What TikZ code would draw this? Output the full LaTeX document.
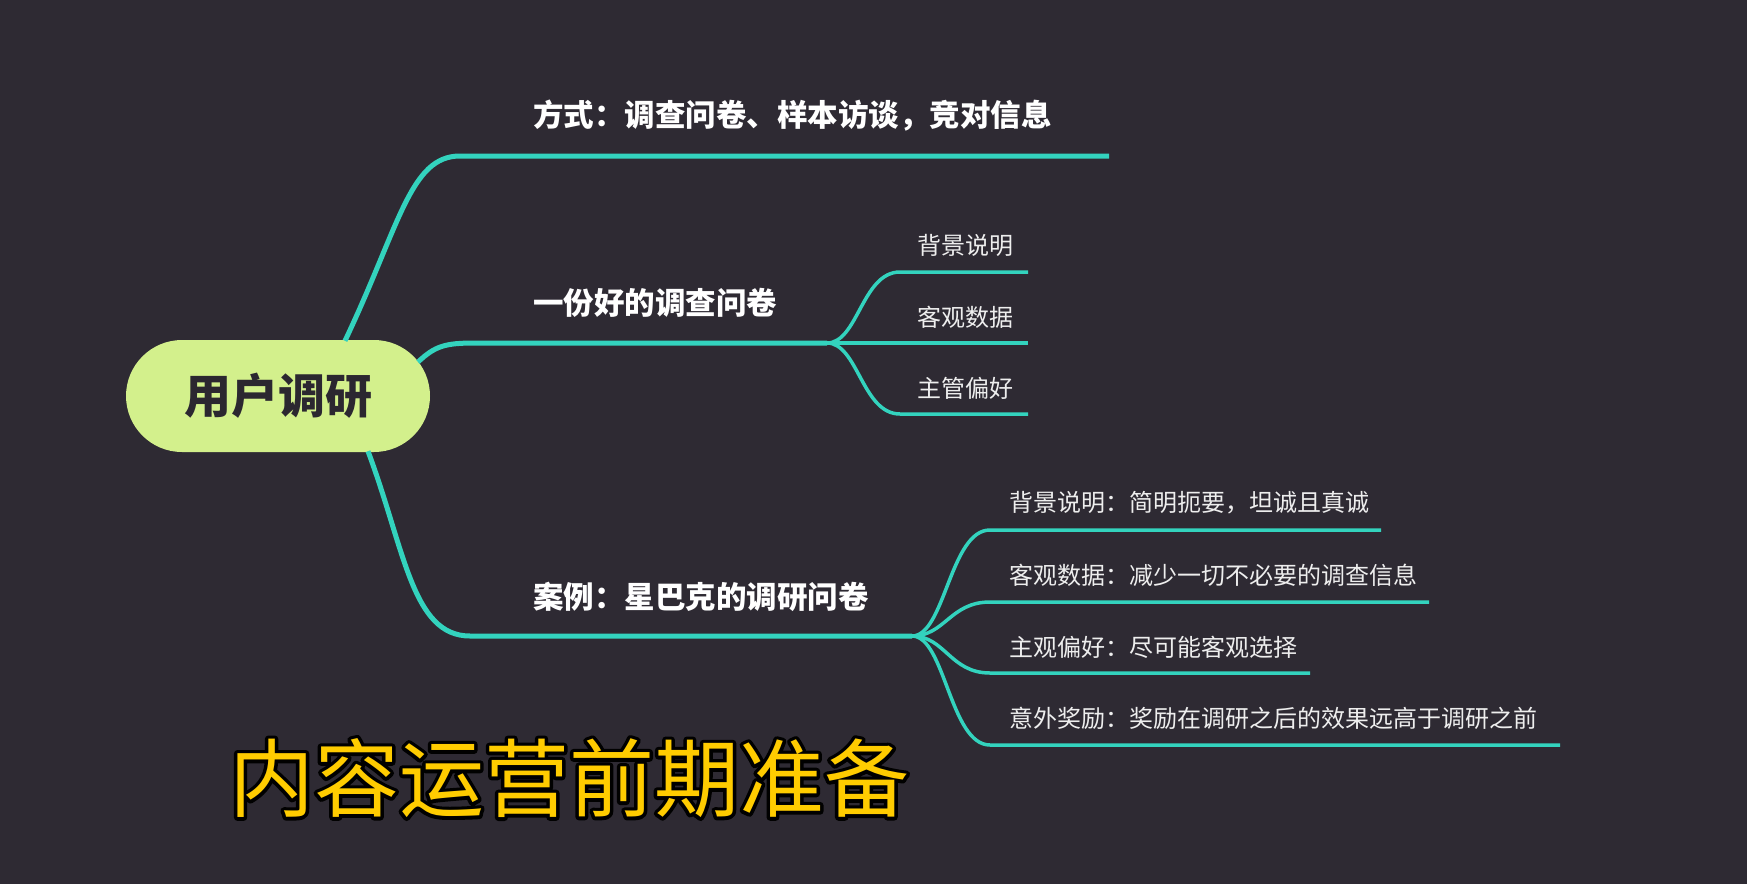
\documentclass[tikz,border=0pt]{standalone}
\usepackage{fontspec}
\setmainfont{Noto Sans CJK SC}
\usepackage{xcolor}
\usepackage{tikz}
\usetikzlibrary{calc}

\definecolor{bgdark}{HTML}{2E2A33}
\definecolor{branchcol}{HTML}{33D3BE}
\definecolor{rootfill}{HTML}{D3F08C}
\definecolor{rootink}{HTML}{2B2730}
\definecolor{leafink}{HTML}{EEEEEE}
\definecolor{titleyel}{HTML}{FFCC00}

\newcommand{\outlined}[1]{{\rlap{\color{black}\special{pdf:literal direct 2 Tr 7 w 1 j}#1\special{pdf:literal direct 0 Tr}}\color{titleyel}#1}}

\begin{document}
\begin{tikzpicture}[x=1pt, y=-1pt,
            branch/.style = {draw=branchcol, line width=5pt},
            twig/.style = {draw=branchcol, line width=3.5pt},
            topic/.style = {anchor=west, inner sep=0pt, text=white, font=\bfseries\fontsize{30.5}{36}\selectfont},
            leaf/.style = {anchor=west, inner sep=0pt, text=leafink, font=\fontsize{24}{28}\selectfont}]
            \fill[bgdark] (0,0) rectangle (1747,884);
            \useasboundingbox (0,0) rectangle (1747,884);

            \node[fill=rootfill, rounded corners=56pt, minimum width=304pt, minimum height=112pt, inner sep=0pt, text=rootink, font=\bfseries\fontsize{47}{52}\selectfont] (root) at (278,396) {用户调研};

            \coordinate (fork2) at (827,343);
            \coordinate (fork3) at (912,636);
            \coordinate (end1) at (1109,156);

            \draw[branch] ($(root.north)+(67,1)$) .. controls (400,225) and (410,156) .. (460,156) -- (end1);
            \draw[branch] ($(root.center)+(140,-34)$) .. controls (435,346) and (445,343) .. (475,343) -- (fork2);
            \draw[branch] ($(root.south)+(90,-1)$) .. controls (405,550) and (412,636) .. (470,636) -- (fork3);

            \node[topic] (way) at (533,116) {方式：调查问卷、样本访谈，竞对信息};
            \node[topic] (good) at (533,303) {一份好的调查问卷};
            \node[topic] (case) at (533,597) {案例：星巴克的调研问卷};

            \draw[twig] (fork2) .. controls (858,343) and (862,272) .. (900,272) -- (1028,272);
            \draw[twig] (fork2) -- (1028,343);
            \draw[twig] (fork2) .. controls (858,343) and (862,414) .. (900,414) -- (1028,414);

            \node[leaf] (bg) at (917,245) {背景说明};
            \node[leaf] (obj) at (917,317) {客观数据};
            \node[leaf] (pref) at (917,388) {主管偏好};

            \draw[twig] (fork3) .. controls (945,636) and (950,530) .. (990,530) -- (1381,530);
            \draw[twig] (fork3) .. controls (945,636) and (950,602) .. (990,602) -- (1429,602);
            \draw[twig] (fork3) .. controls (945,636) and (950,673) .. (990,673) -- (1310,673);
            \draw[twig] (fork3) .. controls (945,636) and (950,745) .. (990,745) -- (1560,745);

            \node[leaf] (bgcase) at (1009,503) {背景说明：简明扼要，坦诚且真诚};
            \node[leaf] (objcase) at (1009,575) {客观数据：减少一切不必要的调查信息};
            \node[leaf] (prefcase) at (1009,647) {主观偏好：尽可能客观选择};
            \node[leaf] (bonus) at (1009,718) {意外奖励：奖励在调研之后的效果远高于调研之前};

            \node[inner sep=0pt, font=\fontsize{85}{90}\selectfont] (title) at (569,778) {\outlined{内容运营前期准备}};
\end{tikzpicture}
\end{document}
